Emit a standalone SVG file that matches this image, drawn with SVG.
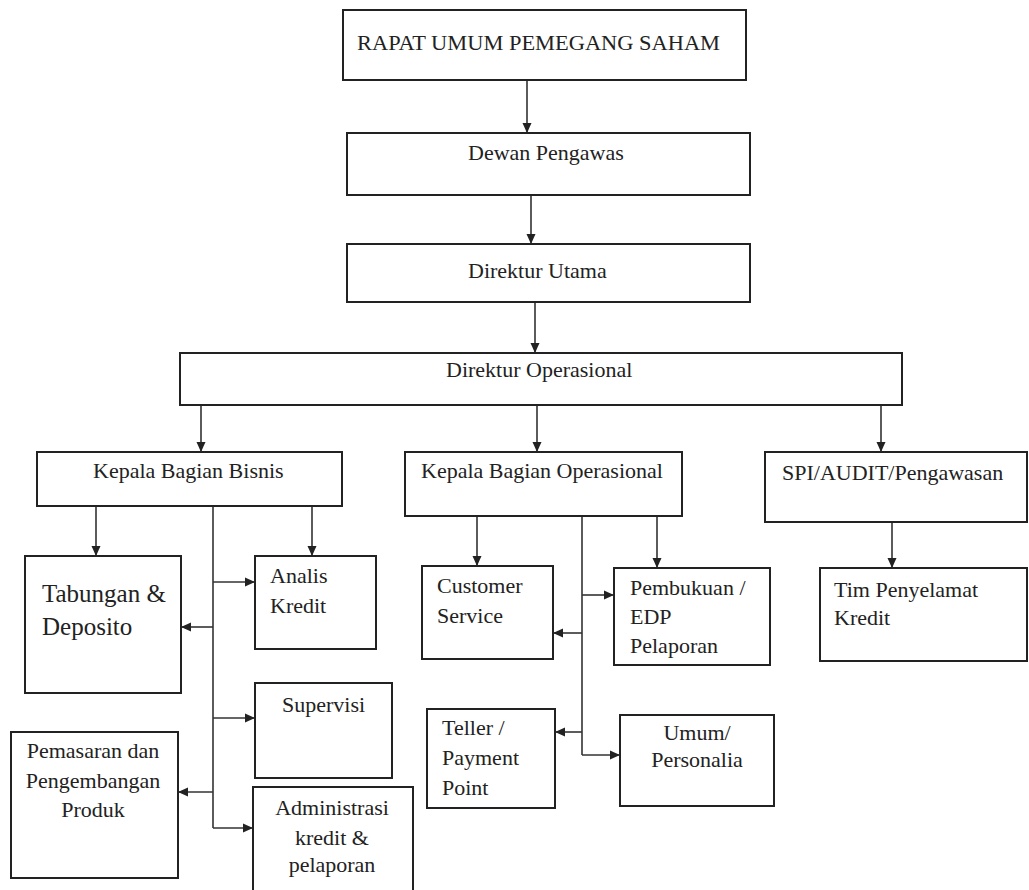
<svg xmlns="http://www.w3.org/2000/svg" width="1029" height="890" viewBox="0 0 1029 890">
<style>
.box{fill:#fff;stroke:#222;stroke-width:2}
.t{font-family:"Liberation Serif","Times New Roman",serif;font-size:22px;fill:#222}
.big{font-size:25px}
.c{text-anchor:middle}
.ln{stroke:#333;stroke-width:1.6;fill:none;marker-end:url(#ah)}
.tr{stroke:#333;stroke-width:1.6;fill:none}
</style>
<defs>
<marker id="ah" markerUnits="userSpaceOnUse" markerWidth="10" markerHeight="10" refX="10" refY="5" orient="auto">
<path d="M0,0.5 L10,5 L0,9.5 z" fill="#222"/>
</marker>
</defs>
<rect width="1029" height="890" fill="#fff"/>
<g id="connectors">
<line class="ln" x1="527" y1="80" x2="527" y2="133"/>
<line class="ln" x1="531" y1="195" x2="531" y2="244"/>
<line class="ln" x1="535" y1="302" x2="535" y2="353"/>
<line class="ln" x1="201" y1="405" x2="201" y2="452"/>
<line class="ln" x1="537" y1="399" x2="537" y2="452"/>
<line class="ln" x1="881" y1="405" x2="881" y2="452"/>
<line class="ln" x1="96" y1="506" x2="96" y2="556"/>
<line class="ln" x1="312" y1="506" x2="312" y2="556"/>
<line class="tr" x1="213" y1="506" x2="213" y2="828"/>
<line class="ln" x1="213" y1="582" x2="255" y2="582"/>
<line class="ln" x1="213" y1="627" x2="181" y2="627"/>
<line class="ln" x1="213" y1="718" x2="255" y2="718"/>
<line class="ln" x1="213" y1="792" x2="178" y2="792"/>
<line class="ln" x1="213" y1="828" x2="253" y2="828"/>
<line class="ln" x1="477" y1="516" x2="477" y2="566"/>
<line class="ln" x1="657" y1="516" x2="657" y2="568"/>
<line class="tr" x1="582" y1="516" x2="582" y2="755"/>
<line class="ln" x1="582" y1="595" x2="614" y2="595"/>
<line class="ln" x1="582" y1="633" x2="553" y2="633"/>
<line class="ln" x1="582" y1="732" x2="555" y2="732"/>
<line class="ln" x1="582" y1="755" x2="620" y2="755"/>
<line class="ln" x1="892" y1="522" x2="892" y2="568"/>
</g>
<g id="rups"><rect class="box" x="343" y="10" width="403" height="70"/><text class="t" x="357" y="50" textLength="363" lengthAdjust="spacingAndGlyphs">RAPAT UMUM PEMEGANG SAHAM</text></g>
<g id="dewan"><rect class="box" x="347" y="133" width="403" height="62"/><text class="t" x="468" y="160">Dewan Pengawas</text></g>
<g id="dirut"><rect class="box" x="347" y="244" width="403" height="58"/><text class="t" x="468" y="278">Direktur Utama</text></g>
<g id="dirop"><rect class="box" x="180" y="353" width="722" height="52"/><text class="t" x="446" y="377">Direktur Operasional</text></g>
<g id="kbb"><rect class="box" x="37" y="452" width="305" height="54"/><text class="t" x="93" y="478">Kepala Bagian Bisnis</text></g>
<g id="kbo"><rect class="box" x="405" y="452" width="277" height="64"/><text class="t" x="421" y="478">Kepala Bagian Operasional</text></g>
<g id="spi"><rect class="box" x="765" y="452" width="262" height="70"/><text class="t" x="782" y="480">SPI/AUDIT/Pengawasan</text></g>
<g id="tabungan"><rect class="box" x="25" y="556" width="156" height="137"/><text class="t big" x="42" y="602">Tabungan &amp;</text><text class="t big" x="42" y="635">Deposito</text></g>
<g id="analis"><rect class="box" x="255" y="556" width="121" height="93"/><text class="t" x="270" y="583">Analis</text><text class="t" x="270" y="613">Kredit</text></g>
<g id="supervisi"><rect class="box" x="255" y="683" width="137" height="95"/><text class="t" x="282" y="712">Supervisi</text></g>
<g id="pemasaran"><rect class="box" x="11" y="732" width="167" height="146"/><text class="t c" x="93" y="758">Pemasaran dan</text><text class="t c" x="93" y="788">Pengembangan</text><text class="t c" x="93" y="817">Produk</text></g>
<g id="administrasi"><rect class="box" x="253" y="787" width="160" height="115"/><text class="t c" x="332" y="815">Administrasi</text><text class="t c" x="332" y="845">kredit &amp;</text><text class="t c" x="332" y="872">pelaporan</text></g>
<g id="cs"><rect class="box" x="422" y="566" width="131" height="93"/><text class="t" x="437" y="593">Customer</text><text class="t" x="437" y="623">Service</text></g>
<g id="pembukuan"><rect class="box" x="614" y="568" width="156" height="97"/><text class="t" x="630" y="595">Pembukuan /</text><text class="t" x="630" y="624">EDP</text><text class="t" x="630" y="653">Pelaporan</text></g>
<g id="teller"><rect class="box" x="427" y="709" width="128" height="99"/><text class="t" x="442" y="735">Teller /</text><text class="t" x="442" y="765">Payment</text><text class="t" x="442" y="795">Point</text></g>
<g id="umum"><rect class="box" x="620" y="715" width="154" height="91"/><text class="t c" x="697" y="740">Umum/</text><text class="t c" x="697" y="767">Personalia</text></g>
<g id="tim"><rect class="box" x="820" y="568" width="207" height="93"/><text class="t" x="834" y="597">Tim Penyelamat</text><text class="t" x="834" y="625">Kredit</text></g>
</svg>
